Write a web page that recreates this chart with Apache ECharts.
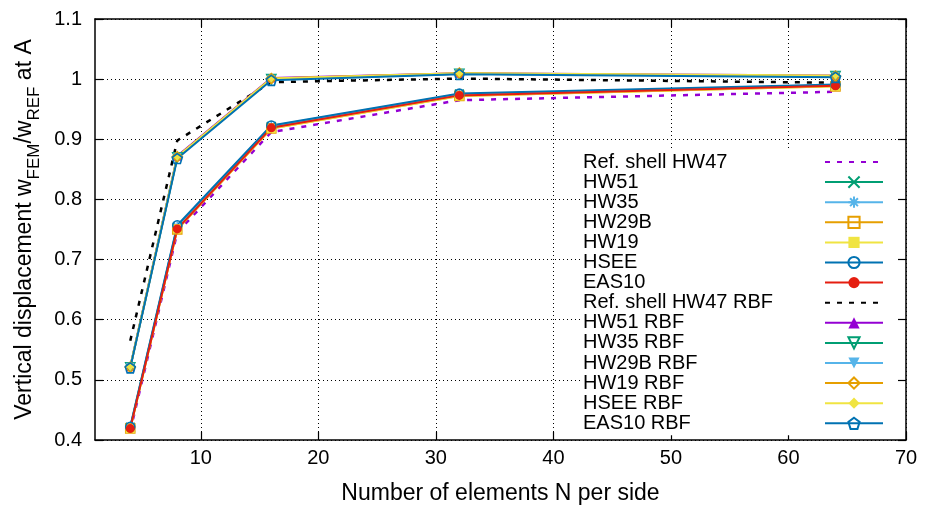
<!DOCTYPE html>
<html>
<head>
<meta charset="utf-8">
<script src="https://cdn.jsdelivr.net/npm/echarts@6/dist/echarts.min.js"></script>
<style>html,body{margin:0;padding:0;background:#fff}#c{width:930px;height:510px}</style>
</head>
<body>
<div id="c"></div>
<script>
// ---- data ----
var xN = [4, 8, 16, 32, 64];
var xTicks = [10, 20, 30, 40, 50, 60, 70];
var yTicks = [0.4, 0.5, 0.6, 0.7, 0.8, 0.9, 1.0, 1.1];

var refHW47    = [0.415, 0.745, 0.912, 0.965, 0.979];
var hw51       = [0.421, 0.754, 0.921, 0.975, 0.989];
var hw35       = [0.421, 0.755, 0.922, 0.975, 0.990];
var hw29b      = [0.419, 0.750, 0.918, 0.972, 0.988];
var hw19       = [0.419, 0.751, 0.918, 0.972, 0.988];
var hsee       = [0.422, 0.757, 0.923, 0.976, 0.991];
var eas10      = [0.419, 0.751, 0.919, 0.973, 0.989];
var refHW47RBF = [0.565, 0.898, 0.995, 1.001, 0.994];
var hw51RBF    = [0.522, 0.872, 1.002, 1.010, 1.006];
var hw35RBF    = [0.521, 0.870, 1.000, 1.009, 1.005];
var hw29bRBF   = [0.521, 0.870, 1.000, 1.009, 1.005];
var hw19RBF    = [0.521, 0.871, 1.001, 1.010, 1.005];
var hseeRBF    = [0.522, 0.871, 1.001, 1.010, 1.006];
var eas10RBF   = [0.520, 0.868, 0.998, 1.008, 1.003];

var names = ['Ref. shell HW47','HW51','HW35','HW29B','HW19','HSEE','EAS10',
  'Ref. shell HW47 RBF','HW51 RBF','HW35 RBF','HW29B RBF','HW19 RBF','HSEE RBF','EAS10 RBF'];
var values = [refHW47, hw51, hw35, hw29b, hw19, hsee, eas10,
  refHW47RBF, hw51RBF, hw35RBF, hw29bRBF, hw19RBF, hseeRBF, eas10RBF];

// ---- styles ----
var PURPLE='#9400d3', GREEN='#009e73', LBLUE='#56b4e9', ORANGE='#e69f00',
    YELLOW='#f0e442', BLUE='#0072b2', RED='#e51e10', BLACK='#000000';
var FONT = 'Liberation Sans, Arial, sans-serif';
var P_CROSS = 'path://M0,0L10,10M10,0L0,10';
var P_STAR = 'path://M5,0L5,10M0,5L10,5M1.5,1.5L8.5,8.5M8.5,1.5L1.5,8.5';
var P_DTRI = 'path://M0,0L10,0L5,9Z';
var P_PENT = 'path://M5,0L10,3.8L8.1,10L1.9,10L0,3.8Z';
var NONE = 'rgba(0,0,0,0)';

var styles = [
  {c: PURPLE, dash: [5, 7], w: 2.5, sym: 'none'},
  {c: GREEN, sym: P_CROSS, open: true, size: 9},
  {c: LBLUE, sym: P_STAR, open: true, size: 10},
  {c: ORANGE, sym: 'rect', open: true, size: 9},
  {c: YELLOW, sym: 'rect', size: 9},
  {c: BLUE, sym: 'circle', open: true, size: 9},
  {c: RED, sym: 'circle', size: 9},
  {c: BLACK, dash: [5, 7], w: 2.5, sym: 'none'},
  {c: PURPLE, sym: 'triangle', size: 9},
  {c: GREEN, sym: P_DTRI, open: true, size: 9},
  {c: LBLUE, sym: P_DTRI, size: 9},
  {c: ORANGE, sym: 'diamond', open: true, size: 10},
  {c: YELLOW, sym: 'diamond', size: 8},
  {c: BLUE, sym: P_PENT, open: true, size: 10}
];

var series = names.map(function (n, k) {
  var s = styles[k];
  var data = xN.map(function (x, i) { return [x, values[k][i]]; });
  var o = {
    name: n, type: 'line', data: data, xAxisIndex: 0, yAxisIndex: 0,
    symbol: s.sym, symbolSize: s.size || 9, showSymbol: s.sym !== 'none',
    lineStyle: {color: s.c, width: s.w || 2, type: s.dash || 'solid'},
    itemStyle: s.open ? {color: NONE, borderColor: s.c, borderWidth: 1.6}
                      : {color: s.c, borderColor: s.c, borderWidth: 0},
    emphasis: {disabled: true}, silent: true
  };
  if (s.sym === 'none') o.itemStyle = {color: s.c};
  return o;
});

var legendData = names.map(function (n, k) {
  return styles[k].sym === 'none' ? {name: n, itemStyle: {opacity: 0}} : {name: n};
});

var gridLine = {show: true, lineStyle: {color: '#000', width: 1, type: [1, 3]}};

var option = {
  animation: false,
  backgroundColor: '#fff',
  textStyle: {fontFamily: FONT},
  grid: {left: 95, right: 24, top: 19, bottom: 67, containLabel: false},
  legend: {
    orient: 'vertical', align: 'right', left: 580, top: 150,
    itemWidth: 58, itemHeight: 14, itemGap: 0.1, padding: [2, 12, 2, 3],
    backgroundColor: '#fff',
    data: legendData, selectedMode: false,
    formatter: function (n) { return '{t|' + n + '}'; },
    textStyle: {fontFamily: FONT, fontSize: 20, lineHeight: 20, color: '#000',
      rich: {t: {width: 237, align: 'left', fontSize: 20, lineHeight: 20, fontFamily: FONT, color: '#000'}}}
  },
  xAxis: [{
    type: 'value', min: 1, max: 70, position: 'bottom',
    name: 'Number of elements N per side', nameLocation: 'middle', nameGap: 42,
    nameTextStyle: {fontSize: 23, color: '#000', fontFamily: FONT},
    axisLine: {show: true, onZero: false, lineStyle: {color: '#000', width: 1.5}},
    axisTick: {show: true, inside: true, length: 8, customValues: xTicks, lineStyle: {color: '#000', width: 1.2}},
    axisLabel: {show: true, customValues: xTicks, margin: 8, fontSize: 20, color: '#000', fontFamily: FONT},
    splitLine: gridLine
  }, {
    type: 'value', min: 1, max: 70, position: 'top',
    axisLine: {show: true, onZero: false, lineStyle: {color: '#000', width: 1.5}},
    axisTick: {show: true, inside: true, length: 8, customValues: xTicks, lineStyle: {color: '#000', width: 1.2}},
    axisLabel: {show: false}, splitLine: {show: false}
  }],
  yAxis: [{
    type: 'value', min: 0.4, max: 1.1, interval: 0.1, position: 'left',
    name: '{n|Vertical displacement w}{s|FEM}{n|/w}{s|REF}{n| at A}',
    nameLocation: 'middle', nameRotate: 90, nameGap: 50,
    nameTextStyle: {fontSize: 23, color: '#000', fontFamily: FONT,
      rich: {
        n: {fontSize: 23, lineHeight: 30, verticalAlign: 'top', fontFamily: FONT, color: '#000'},
        s: {fontSize: 17, lineHeight: 17, verticalAlign: 'bottom', fontFamily: FONT, color: '#000'}
      }},
    axisLine: {show: true, onZero: false, lineStyle: {color: '#000', width: 1.5}},
    axisTick: {show: true, inside: true, length: 8, lineStyle: {color: '#000', width: 1.2}},
    axisLabel: {show: true, margin: 13, fontSize: 20, color: '#000', fontFamily: FONT},
    splitLine: gridLine
  }, {
    type: 'value', min: 0.4, max: 1.1, interval: 0.1, position: 'right',
    axisLine: {show: true, onZero: false, lineStyle: {color: '#000', width: 1.5}},
    axisTick: {show: true, inside: true, length: 8, lineStyle: {color: '#000', width: 1.2}},
    axisLabel: {show: false}, splitLine: {show: false}
  }],
  series: series
};

var chart = echarts.init(document.getElementById('c'), null, {renderer: 'canvas'});
chart.setOption(option);
</script>
</body>
</html>
